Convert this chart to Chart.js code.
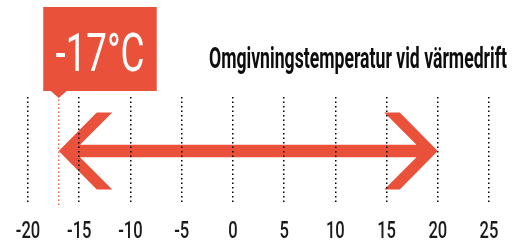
<!DOCTYPE html>
<html>
<head>
<meta charset="utf-8">
<script src="https://cdn.jsdelivr.net/npm/chart.js@4.4.0/dist/chart.umd.min.js"></script>
<style>
    html, body { margin: 0; padding: 0; background: #ffffff; }
    #wrap { width: 513px; height: 241px; position: relative; }
</style>
</head>
<body>
<div id="wrap"><canvas id="chart" width="513" height="241"></canvas></div>
<script>
// Temperature range chart

const tickValues = [-20, -15, -10, -5, 0, 5, 10, 15, 20, 25];
const rangeMin = -17;
const rangeMax = 20;
const markerLabel = '-17°C';
const chartTitle = 'Omgivningstemperatur vid värmedrift';

const RED = '#E9513A';
const FONT = 'Roboto, "DejaVu Sans", sans-serif';

// Draw text squeezed horizontally so it fits a target width
function drawSqueezed(ctx, text, x, y, font, targetWidth, align) {
    ctx.save();
    ctx.font = font;
    const w = ctx.measureText(text).width;
    const sx = targetWidth / w;
    let left = x;
    if (align === 'center') left = x - targetWidth / 2;
    if (align === 'right') left = x - targetWidth;
    ctx.translate(left, y);
    ctx.scale(sx, 1);
    ctx.textAlign = 'left';
    ctx.textBaseline = 'alphabetic';
    ctx.fillText(text, 0, 0);
    ctx.restore();
}

// Double-headed arrow over the range dataset
const rangeArrow = {
    id: 'rangeArrow',
    afterDatasetsDraw(chart) {
        const meta = chart.getDatasetMeta(0);
        const xL = meta.data[0].x;
        const xR = meta.data[1].x;
        const cy = meta.data[0].y;
        const h = 38.5, ao = 38, ai = 53.5, iv = 15, s = 6.3;
        const j = iv + (ai - iv) * s / h;
        const ctx = chart.ctx;
        ctx.save();
        ctx.fillStyle = RED;
        ctx.beginPath();
        ctx.moveTo(xL, cy);
        ctx.lineTo(xL + ao, cy - h);
        ctx.lineTo(xL + ai, cy - h);
        ctx.lineTo(xL + j, cy - s);
        ctx.lineTo(xR - j, cy - s);
        ctx.lineTo(xR - ai, cy - h);
        ctx.lineTo(xR - ao, cy - h);
        ctx.lineTo(xR, cy);
        ctx.lineTo(xR - ao, cy + h);
        ctx.lineTo(xR - ai, cy + h);
        ctx.lineTo(xR - j, cy + s);
        ctx.lineTo(xL + j, cy + s);
        ctx.lineTo(xL + ai, cy + h);
        ctx.lineTo(xL + ao, cy + h);
        ctx.closePath();
        ctx.fill();
        ctx.restore();
    }
};

// Label box, title and tick labels
const decorations = {
    id: 'decorations',
    afterDraw(chart) {
        const ctx = chart.ctx;
        const xScale = chart.scales.x;
        const px = xScale.getPixelForValue(rangeMin);

        // red callout box with pointer
        const boxL = px - 15.5, boxT = 7, boxW = 113.5, boxH = 84;
        ctx.save();
        ctx.fillStyle = RED;
        ctx.fillRect(boxL, boxT, boxW, boxH);
        ctx.beginPath();
        ctx.moveTo(px - 8.5, boxT + boxH - 0.5);
        ctx.lineTo(px + 8.5, boxT + boxH - 0.5);
        ctx.lineTo(px, boxT + boxH + 7);
        ctx.closePath();
        ctx.fill();
        ctx.fillStyle = '#ffffff';
        drawSqueezed(ctx, markerLabel, boxL + boxW / 2, 70.5, '400 53px ' + FONT, 89, 'center');

        // title
        ctx.fillStyle = '#0d0d0d';
        drawSqueezed(ctx, chartTitle, 507, 68, '700 29px ' + FONT, 298, 'right');

        // tick labels
        ctx.fillStyle = '#1a1a1a';
        const font = '500 24.5px ' + FONT;
        ctx.font = font;
        const sx = 9.4 / ctx.measureText('0').width;
        xScale.ticks.forEach(t => {
            const label = String(t.value);
            const w = ctx.measureText(label).width * sx;
            drawSqueezed(ctx, label, xScale.getPixelForValue(t.value), 237.5, font, w, 'center');
        });
        ctx.restore();
    }
};

new Chart(document.getElementById('chart'), {
    type: 'line',
    data: {
        datasets: [
            {
                label: 'range',
                data: [{ x: rangeMin, y: 0 }, { x: rangeMax, y: 0 }],
                showLine: false,
                pointRadius: 0
            },
            {
                label: 'marker',
                data: [{ x: rangeMin, y: -1 }, { x: rangeMin, y: 1 }],
                borderColor: '#EC6A55',
                borderWidth: 1.5,
                borderDash: [1.5, 2.5],
                pointRadius: 0
            }
        ]
    },
    options: {
        responsive: false,
        animation: false,
        layout: {
            padding: { left: 28, right: 24, top: 97, bottom: 0 }
        },
        plugins: {
            legend: { display: false },
            tooltip: { enabled: false }
        },
        scales: {
            x: {
                type: 'linear',
                min: tickValues[0],
                max: tickValues[tickValues.length - 1],
                afterBuildTicks: scale => {
                    scale.ticks = tickValues.map(v => ({ value: v }));
                },
                afterFit: scale => { scale.height = 36; },
                ticks: { display: false },
                grid: {
                    color: '#000000',
                    lineWidth: 1.5,
                    drawTicks: false,
                    z: 1
                },
                border: { display: false, dash: [1.5, 3] }
            },
            y: {
                display: false,
                min: -1,
                max: 1
            }
        }
    },
    plugins: [rangeArrow, decorations]
});
</script>
</body>
</html>
